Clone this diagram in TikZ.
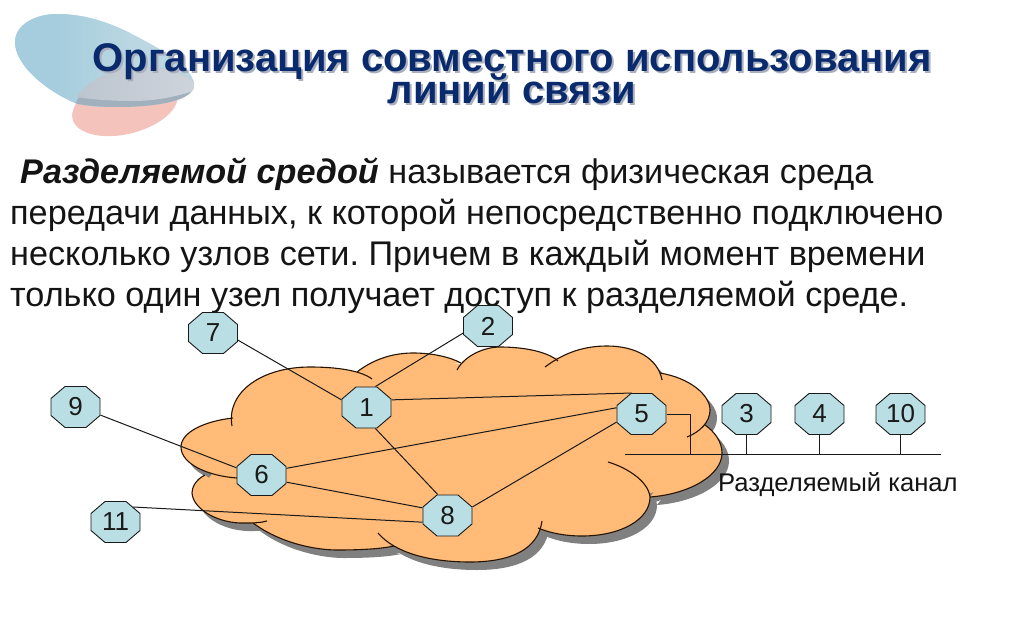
\documentclass[tikz,border=0pt]{standalone}
\usepackage{fontspec}
\setmainfont{Liberation Sans}
\frenchspacing
\definecolor{titleblue}{HTML}{0A2A6E}
\definecolor{cloudfill}{HTML}{FFBB77}
\definecolor{nodefill}{HTML}{B9DEE3}
\definecolor{cloudshade}{HTML}{808080}
\definecolor{logoblueL}{HTML}{A5CDDD}
\definecolor{logoblueR}{HTML}{BAD7E2}
\definecolor{logopink}{HTML}{F3C3BC}
\definecolor{logograyL}{HTML}{BCC5CF}
\definecolor{logograyR}{HTML}{CFD4DC}
\definecolor{logodark}{HTML}{A0B0BC}
\definecolor{inkline}{HTML}{1A1A1A}
\definecolor{titleshadow}{HTML}{A9AFBC}
\newcommand\lobeA{(232,426) .. controls (226,392) and (262,367) .. (310,367) .. controls (335,367) and (360,370) .. (372,379)}
\newcommand\lobeB{(357,372) .. controls (375,358) and (395,353) .. (413,353) .. controls (432,353) and (450,357) .. (461,363)}
\newcommand\lobeC{(457,370) .. controls (465,355) and (485,347) .. (500,347) .. controls (525,347) and (548,352) .. (558,361)}
\newcommand\lobeD{(545,367) .. controls (565,352) and (585,346) .. (607,346) .. controls (635,346) and (658,358) .. (662,380)}
\newcommand\lobeE{(660,373) .. controls (690,378) and (710,395) .. (710,410) .. controls (710,422) and (700,432) .. (687,437)}
\newcommand\lobeF{(650,497) .. controls (690,494) and (722,475) .. (722,453) .. controls (722,442) and (715,432) .. (705,425)}
\newcommand\lobeG{(538,528) .. controls (555,535) and (572,536) .. (582,536) .. controls (620,536) and (650,520) .. (650,497) .. controls (648,480) and (625,467) .. (608,462)}
\newcommand\lobeH{(378,533) .. controls (395,553) and (430,562) .. (470,562) .. controls (510,562) and (538,550) .. (542,521)}
\newcommand\lobeI{(253,523) .. controls (280,543) and (315,550) .. (337,550) .. controls (360,550) and (380,549) .. (394,546)}
\newcommand\lobeJ{(205,475) .. controls (195,480) and (192,488) .. (192,493) .. controls (193,510) and (220,524) .. (245,523) .. controls (253,523) and (260,523) .. (267,521)}
\newcommand\lobeK{(233,418) .. controls (205,421) and (181,432) .. (181,447) .. controls (181,464) and (208,476) .. (237,478)}
\newcommand\cloudbody[1]{%
  \fill[#1] \lobeA -- cycle; \fill[#1] \lobeB -- cycle; \fill[#1] \lobeC -- cycle;
  \fill[#1] \lobeD -- cycle; \fill[#1] \lobeE -- cycle; \fill[#1] \lobeF -- cycle;
  \fill[#1] \lobeG -- cycle; \fill[#1] \lobeH -- cycle; \fill[#1] \lobeI -- cycle;
  \fill[#1] \lobeJ -- cycle; \fill[#1] \lobeK -- cycle;
  \fill[#1] (240,410) -- (290,375) -- (357,372) -- (413,360) -- (458,364) -- (500,355) -- (551,358) -- (607,355)
    -- (655,375) -- (700,405) -- (702,425) -- (715,450) -- (690,480) -- (645,495) -- (625,520) -- (580,530) -- (538,527)
    -- (520,548) -- (470,558) -- (394,545) -- (337,546) -- (270,530) -- (253,522.5) -- (205,505) -- (200,490) -- (215,470) -- (195,450) -- (225,428) -- cycle;
}
\newcommand\logoblob{(15,42) .. controls (15,25) and (35,14) .. (57,14) .. controls (95,14) and (125,30) .. (147,42) .. controls (175,57) and (194,72) .. (194,85) .. controls (194,100) and (160,107) .. (117,107) .. controls (95,107) and (80,105) .. (75,103) .. controls (45,90) and (15,65) .. (15,42) -- cycle}
\newcommand\shadowed[1]{\rlap{\kern2pt\raisebox{-2pt}{\textcolor{titleshadow}{#1}}}#1}
\tikzset{
  octa/.style={rectangle, minimum width=50pt, minimum height=42pt, inner sep=0pt, outer sep=0pt,
    font=\fontsize{26}{26}\selectfont, text=inkline,
    path picture={\filldraw[draw=inkline, fill=nodefill, line width=0.9pt]
      (path picture bounding box.center) ++(-10.5,-20.5) -- ++(21,0) -- ++(14,12) -- ++(0,17)
      -- ++(-14,12) -- ++(-21,0) -- ++(-14,-12) -- ++(0,-17) -- cycle;}},
  wire/.style={draw=inkline, line width=1pt},
  edgeline/.style={draw=black!85!orange, line width=1.1pt},
  bodytext/.style={anchor=base west, inner sep=0pt, font=\fontsize{34.2}{40}\selectfont, text=black!92},
  titletext/.style={anchor=base, inner sep=0pt, font=\fontsize{40}{44}\selectfont\bfseries, text=titleblue}
}
\begin{document}
\begin{tikzpicture}[x=1pt,y=-1pt]
\useasboundingbox (0,0) rectangle (1024,639);
\fill[white] (0,0) rectangle (1024,639);
% logo
\fill[logopink, rotate around={14:(125,106)}] (125,106) ellipse [x radius=54, y radius=28];
\fill[logoblueR] \logoblob;
\begin{scope}
  \clip \logoblob;
  \fill[logoblueL] (0,0) rectangle (55,115);
  \shade[left color=logoblueL, right color=logoblueR] (55,0) rectangle (130,115);
  \fill[logodark] (75,104) .. controls (85,85) and (105,68) .. (140,67) .. controls (165,67) and (185,72) .. (197,85) -- (197,115) -- (70,115) -- cycle;
  \shade[left color=logograyL, right color=logograyR] (76,97) .. controls (85,85) and (105,68) .. (140,67) .. controls (165,67) and (185,72) .. (197,85) -- (197,90) .. controls (175,97) and (155,101) .. (133,101) .. controls (115,101) and (95,100) .. (76,97) -- cycle;
\end{scope}
% title
\node[titletext] (t1) at (512,72) {\shadowed{Организация совместного использования}};
\node[titletext] (t2) at (512,104) {\shadowed{линий связи}};
% body
\node[bodytext] (b1) at (20,183) {\textbf{\textit{Разделяемой средой}} называется физическая среда};
\node[bodytext] (b2) at (10,224) {передачи данных, к которой непосредственно подключено};
\node[bodytext] (b3) at (10,265) {несколько узлов сети. Причем в каждый момент времени};
\node[bodytext] (b4) at (10,306) {только один узел получает доступ к разделяемой среде.};
% cloud
\begin{scope}[shift={(7,8)}]
  \cloudbody{cloudshade}
\end{scope}
\cloudbody{cloudfill}
\foreach \l in {\lobeA,\lobeB,\lobeC,\lobeD,\lobeE,\lobeF,\lobeG,\lobeH,\lobeI,\lobeJ,\lobeK}
  \draw[edgeline] \l;
% nodes
\node[octa] (n7) at (213,333) {7};
\node[octa] (n2) at (488,326) {2};
\node[octa] (n1) at (366.5,407.5) {1};
\node[octa] (n9) at (75.5,407) {9};
\node[octa] (n6) at (261.5,475) {6};
\node[octa] (n5) at (641.5,414) {5};
\node[octa] (n3) at (746.5,414) {3};
\node[octa] (n4) at (819.5,414) {4};
\node[octa] (n10) at (900.5,414) {10};
\node[octa] (n8) at (447.5,515.5) {8};
\node[octa] (n11) at (115.5,522) {11};
\coordinate (busL) at (625,454.4);
\coordinate (busR) at (941,454.4);
\coordinate (tap) at (690.4,454.4);
% connectors
\draw[wire] (n7.-16) -- (n1.163);
\draw[wire] (n2.196) -- (n1.67);
\draw[wire] (n1.17) -- (n5.114);
\draw[wire] (n6.15) -- (n5.166);
\draw[wire] (n8.19) -- (n5.198);
\draw[wire] (n6.-16) -- (n8.163);
\draw[wire] ([shift={(17.5,-15)}]n11.center) -- (n8.195);
\draw[wire] (n9.-18) -- (n6.164);
\draw[wire] (n1.-67) -- (n8.115);
\draw[wire] (busL) -- (busR);
\draw[wire] (n5.east) -| (tap);
\draw[wire] (n3.south) -- (n3.south |- busL);
\draw[wire] (n4.south) -- (n4.south |- busL);
\draw[wire] (n10.south) -- (n10.south |- busL);
\node[anchor=base west, inner sep=0pt, font=\fontsize{25.6}{30}\selectfont, text=black!92] (lab) at (718,491) {Разделяемый канал};
\end{tikzpicture}
\end{document}
